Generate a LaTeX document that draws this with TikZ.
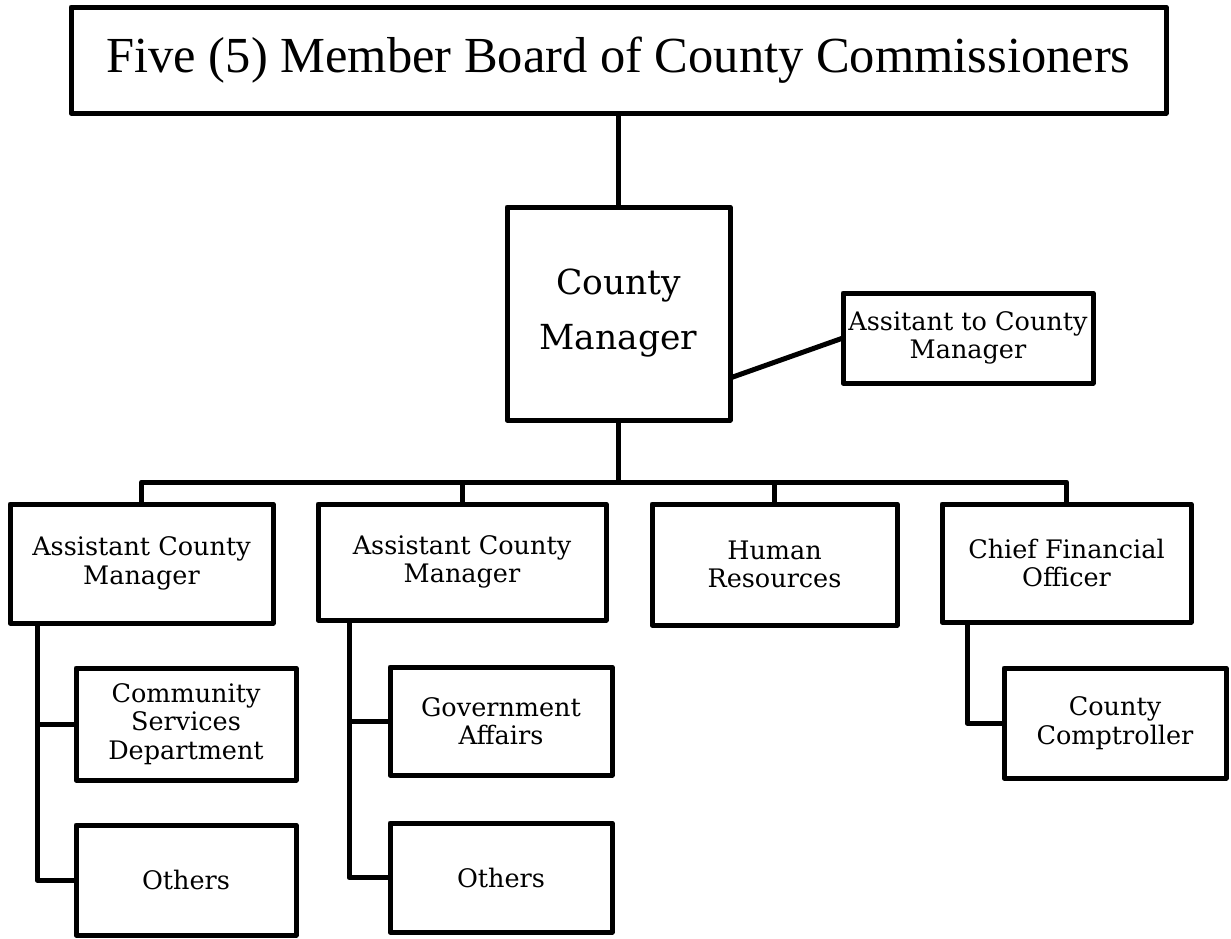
\documentclass[tikz,border=0pt]{standalone}
\usepackage{fontspec}
\setmainfont{DejaVu Serif}
\newfontfamily\titlefont{Liberation Serif}
\begin{document}
\begin{tikzpicture}[x=1pt,y=-1pt, line join=round,
  box/.style={draw, line width=5pt, inner sep=0pt, outer sep=0pt, align=center,
    font=\fontsize{25.5}{28.5}\selectfont},
  conn/.style={draw, line width=5pt, line join=round}]
\useasboundingbox (0,0) rectangle (1231,938);
% nodes
\node[box, minimum width=1095pt, minimum height=106pt,
  font=\titlefont\fontsize{50.5}{60}\selectfont] (title) at (618.5,60)
  {Five (5) Member Board of County Commissioners};
\node[box, minimum width=223pt, minimum height=213pt,
  font=\fontsize{34.5}{55}\selectfont] (cm) at (618.5,313.5) {County\\Manager};
\node[box, minimum width=250pt, minimum height=90pt] (asst) at (968,338)
  {Assitant to County\\Manager};
\node[box, minimum width=263pt, minimum height=119pt] (acm1) at (141.5,563.5)
  {Assistant County\\Manager};
\node[box, minimum width=288pt, minimum height=116pt] (acm2) at (462,562)
  {Assistant County\\Manager};
\node[box, minimum width=245pt, minimum height=121pt] (hr) at (774.5,564.5)
  {Human\\Resources};
\node[box, minimum width=249pt, minimum height=118pt] (cfo) at (1066.5,563)
  {Chief Financial\\Officer};
\node[box, minimum width=220pt, minimum height=112pt] (comm) at (186,724)
  {Community\\Services\\Department};
\node[box, minimum width=220pt, minimum height=110pt] (oth1) at (186,880)
  {Others};
\node[box, minimum width=222pt, minimum height=108pt] (gov) at (501,721)
  {Government\\Affairs};
\node[box, minimum width=222pt, minimum height=109pt] (oth2) at (501,877.5)
  {Others};
\node[box, minimum width=222pt, minimum height=110pt] (comp) at (1115,723)
  {County\\Comptroller};
% connectors
\coordinate (bus) at (618.5,482);
\draw[conn] (title.south) -- (cm.north);
\draw[conn] (cm.south) -- (bus);
\draw[conn] (acm1.north) |- (bus) -| (cfo.north);
\draw[conn] (acm2.north) -- (acm2.north |- bus);
\draw[conn] (hr.north) -- (hr.north |- bus);
\draw[conn] ([yshift=-64.5pt]cm.east) -- (asst.west);
\coordinate (v1) at ([xshift=27pt]acm1.south west);
\coordinate (v2) at ([xshift=31pt]acm2.south west);
\coordinate (v3) at ([xshift=25pt]cfo.south west);
\draw[conn] (v1) |- (comm.west);
\draw[conn] (v1) |- (oth1.west);
\draw[conn] (v2) |- (gov.west);
\draw[conn] (v2) |- (oth2.west);
\draw[conn] (v3) |- (comp.west);
\end{tikzpicture}
\end{document}
